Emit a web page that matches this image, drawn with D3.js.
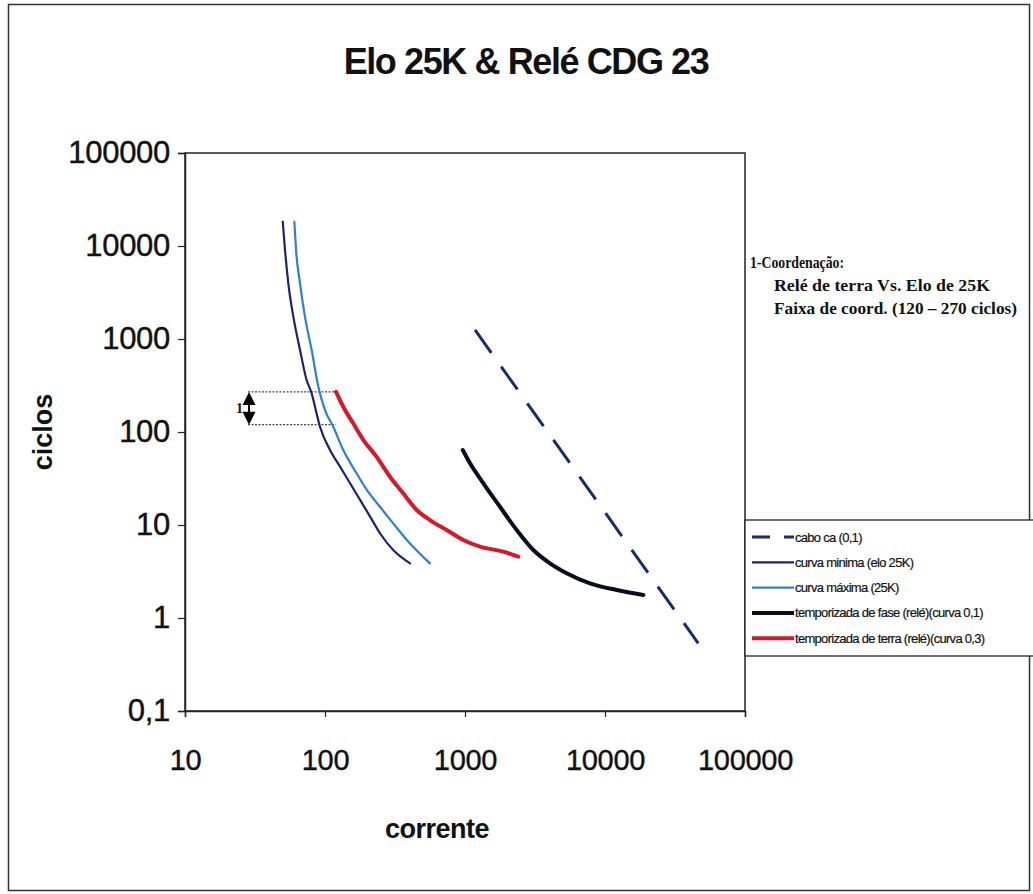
<!DOCTYPE html>
<html>
<head>
<meta charset="utf-8">
<script src="https://cdn.jsdelivr.net/npm/d3@7"></script>
<style>
  html, body { margin: 0; padding: 0; background: #fff; }
  svg { display: block; }
</style>
</head>
<body>
<svg id="chart" width="1033" height="894"></svg>
<script>
// ---------- DATA ----------
const title = "Elo 25K & Relé CDG 23";
const xTitle = "corrente";
const yTitle = "ciclos";
const xTicks = [10, 100, 1000, 10000, 100000];
const xTickLabels = ["10", "100", "1000", "10000", "100000"];
const yTicks = [0.1, 1, 10, 100, 1000, 10000, 100000];
const yTickLabels = ["0,1", "1", "10", "100", "1000", "10000", "100000"];

const seriesNames = [
  "cabo ca (0,1)",
  "curva minima (elo 25K)",
  "curva máxima (25K)",
  "temporizada de fase (relé)(curva 0,1)",
  "temporizada de terra (relé)(curva 0,3)"
];

// cabo ca (0,1) - damage curve
const caboI = [1180, 46350];
const caboT = [1250, 0.535];

// curva minima (elo 25K)
const minI = [49.9, 51.8, 54.7, 59.4, 66.3, 73.9, 80.3, 84.8, 92.1, 108.6, 128, 151, 178, 210, 247, 307, 405];
const minT = [18240, 9060, 3970, 1738, 762, 362, 261, 187, 114, 64, 42.4, 28.1, 18.6, 12.3, 8.15, 5.38, 3.87];

// curva maxima (25K)
const maxI = [60.4, 62.1, 66.3, 71.9, 80.3, 89.6, 100, 114.6, 135, 168, 199, 247, 307, 384, 562];
const maxT = [18240, 9060, 3970, 1738, 762, 307, 172, 114, 64, 36, 23.8, 15.7, 10.4, 6.9, 3.87];

// temporizada de fase (relé)(curva 0,1)
const faseI = [964, 1086, 1352, 1778, 2340, 3076, 4046, 5322, 7812, 12130, 18800];
const faseT = [64, 46, 28.1, 15.7, 8.83, 5.38, 3.87, 3.03, 2.36, 2.0, 1.77];

// temporizada de terra (relé)(curva 0,3)
const terraI = [120, 135, 159, 188, 234, 291, 362, 452, 562, 740, 973, 1279, 1879, 2404];
const terraT = [270, 187, 124, 82, 54, 33, 21.9, 14.5, 11.3, 8.83, 6.9, 5.85, 5.17, 4.56];

// coordination band annotation
const coordStartI = 28.2;
const coordEndI = 120;
const coordTimes = [270, 120];
const coordLabel = "1";
const noteLines = ["1-Coordenação:", "Relé de terra Vs. Elo de 25K", "Faixa de coord. (120 – 270 ciclos)"];

// ---------- LAYOUT ----------
const svg = d3.select("#chart");
const W = 1033, H = 894;
const plot = { left: 185, right: 745, top: 153, bottom: 711 };

const x = d3.scaleLog().domain([10, 100000]).range([plot.left, plot.right]);
const y = d3.scaleLog().domain([0.1, 100000]).range([plot.bottom, plot.top]);

// outer frame
svg.append("rect").attr("x", 8.5).attr("y", 4.5).attr("width", W - 12).attr("height", H - 8)
  .attr("fill", "none").attr("stroke", "#333").attr("stroke-width", 1.5);

// title
svg.append("text").attr("x", 526).attr("y", 74).attr("text-anchor", "middle")
  .attr("font-family", "Liberation Sans, Arial, sans-serif").attr("font-weight", "bold")
  .attr("font-size", 36).attr("letter-spacing", -1.4).attr("fill", "#111").text(title);

// plot frame
svg.append("rect").attr("x", plot.left).attr("y", plot.top)
  .attr("width", plot.right - plot.left).attr("height", plot.bottom - plot.top)
  .attr("fill", "none").attr("stroke", "#222").attr("stroke-width", 1.5);

// axes
const yAxis = d3.axisLeft(y).tickValues(yTicks).tickSize(7).tickPadding(8)
  .tickFormat((d, i) => yTickLabels[i]);
const gy = svg.append("g").attr("transform", `translate(${plot.left},0)`).call(yAxis);
gy.select(".domain").attr("stroke", "#222").attr("stroke-width", 1.5);
gy.selectAll(".tick line").attr("stroke", "#222").attr("stroke-width", 1.2);
gy.selectAll("text").attr("font-family", "Liberation Sans, Arial, sans-serif")
  .attr("font-size", 31).attr("fill", "#111").attr("stroke", "#111").attr("stroke-width", 0.4)
  .attr("letter-spacing", -0.3);

const xAxis = d3.axisBottom(x).tickValues(xTicks).tickSize(6).tickPadding(32)
  .tickFormat((d, i) => xTickLabels[i]);
const gx = svg.append("g").attr("transform", `translate(0,${plot.bottom})`).call(xAxis);
gx.select(".domain").attr("stroke", "#222").attr("stroke-width", 1.5);
gx.selectAll(".tick line").attr("stroke", "#222").attr("stroke-width", 1.2);
gx.selectAll("text").attr("font-family", "Liberation Sans, Arial, sans-serif")
  .attr("font-size", 29).attr("fill", "#111").attr("stroke", "#111").attr("stroke-width", 0.4)
  .attr("letter-spacing", -0.3);

// axis titles
svg.append("text").attr("x", 437).attr("y", 838).attr("text-anchor", "middle")
  .attr("font-family", "Liberation Sans, Arial, sans-serif").attr("font-weight", "bold")
  .attr("font-size", 27).attr("letter-spacing", -0.5).attr("fill", "#111").text(xTitle);
svg.append("text").attr("transform", `translate(52,432) rotate(-90)`).attr("text-anchor", "middle")
  .attr("font-family", "Liberation Sans, Arial, sans-serif").attr("font-weight", "bold")
  .attr("font-size", 27).attr("fill", "#111").text(yTitle);

// series
const line = d3.line().x(d => x(d[0])).y(d => y(d[1])).curve(d3.curveMonotoneX);
const zipS = (a, b) => a.map((v, i) => [v, b[i]]);

const series = [
  { name: seriesNames[0], data: zipS(caboI, caboT), color: "#1b2a6b", width: 3, dash: "28,17" },
  { name: seriesNames[1], data: zipS(minI, minT), color: "#1e2370", width: 2.2, dash: null },
  { name: seriesNames[2], data: zipS(maxI, maxT), color: "#2e7fd6", width: 2.2, dash: null },
  { name: seriesNames[3], data: zipS(faseI, faseT), color: "#0b0b22", width: 4, dash: null },
  { name: seriesNames[4], data: zipS(terraI, terraT), color: "#d9172b", width: 4, dash: null }
];

// coordination band lines (dotted)
coordTimes.forEach(t => {
  svg.append("line").attr("x1", x(coordStartI)).attr("x2", x(coordEndI))
    .attr("y1", y(t)).attr("y2", y(t))
    .attr("stroke", "#444").attr("stroke-width", 1.2).attr("stroke-dasharray", "2,1.5");
});

series.forEach(s => {
  svg.append("path").datum(s.data).attr("d", line)
    .attr("fill", "none").attr("stroke", s.color).attr("stroke-width", s.width)
    .attr("stroke-linejoin", "round").attr("stroke-linecap", s.dash ? "butt" : "round")
    .attr("stroke-dasharray", s.dash);
});

// double arrow
const ax = x(coordStartI) + 1;
const yTop = y(coordTimes[0]), yBot = y(coordTimes[1]);
svg.append("line").attr("x1", ax).attr("x2", ax).attr("y1", yTop + 6).attr("y2", yBot - 6)
  .attr("stroke", "#000").attr("stroke-width", 2);
svg.append("path").attr("d", `M${ax},${yTop} L${ax - 6.5},${yTop + 13} L${ax + 6.5},${yTop + 13} Z`).attr("fill", "#000");
svg.append("path").attr("d", `M${ax},${yBot} L${ax - 6.5},${yBot - 13} L${ax + 6.5},${yBot - 13} Z`).attr("fill", "#000");
svg.append("text").attr("x", ax - 6).attr("y", (yTop + yBot) / 2 + 5).attr("text-anchor", "end")
  .attr("font-family", "Liberation Serif, Times New Roman, serif").attr("font-size", 14)
  .attr("font-weight", "bold").attr("fill", "#111").text(coordLabel);

// note text
const notePos = [[750, 268, 94], [774, 291, 216], [774, 314, 243]];
noteLines.forEach((t, i) => {
  svg.append("text").attr("x", notePos[i][0]).attr("y", notePos[i][1])
    .attr("font-family", "Liberation Serif, Times New Roman, serif").attr("font-size", 16)
    .attr("font-weight", "bold").attr("fill", "#111")
    .attr("textLength", notePos[i][2]).attr("lengthAdjust", "spacingAndGlyphs").text(t);
});

// legend
const lg = svg.append("g");
lg.append("rect").attr("x", 745).attr("y", 520).attr("width", 300).attr("height", 136)
  .attr("fill", "#fff").attr("stroke", "#222").attr("stroke-width", 1.3);
series.forEach((s, i) => {
  const ly = 537 + i * 25.3;
  lg.append("line").attr("x1", 752).attr("x2", 794).attr("y1", ly).attr("y2", ly)
    .attr("stroke", s.color).attr("stroke-width", s.width)
    .attr("stroke-dasharray", s.dash ? "18,14" : null);
  lg.append("text").attr("x", 795).attr("y", ly + 4.5)
    .attr("font-family", "Liberation Sans, Arial, sans-serif").attr("font-size", 13)
    .attr("letter-spacing", -0.7).attr("fill", "#111").attr("stroke", "#111").attr("stroke-width", 0.2)
    .text(s.name);
});
</script>
</body>
</html>
